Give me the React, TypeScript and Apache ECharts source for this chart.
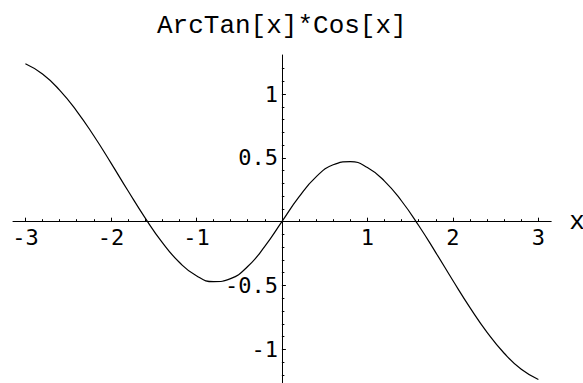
import React, { useEffect, useRef } from "react";
import * as echarts from "echarts";

const TITLE = "ArcTan[x]*Cos[x]";
const X_NAME = "x";

// curve samples
const xValues = [
  -3.0, -2.8, -2.6, -2.4, -2.2, -2.0, -1.8, -1.6, -1.4, -1.2, -1.0, -0.8, -0.6, -0.4, -0.2, 0,
  0.2, 0.4, 0.6, 0.8, 1.0, 1.2, 1.4, 1.6, 1.8, 2.0, 2.2, 2.4, 2.6, 2.8, 3.0,
];
const yValues = [
  1.237, 1.157, 1.031, 0.867, 0.673, 0.461, 0.242, 0.03, -0.162, -0.318, -0.424, -0.47, -0.446,
  -0.351, -0.194, 0, 0.194, 0.351, 0.446, 0.47, 0.424, 0.318, 0.162, -0.03, -0.242, -0.461,
  -0.673, -0.867, -1.031, -1.157, -1.237,
];

const xLabels = [-3, -2, -1, 1, 2, 3];
const xMajorTicks = [-3, -2, -1, 0, 1, 2, 3];
const xMinorTicks = [
  -2.8, -2.6, -2.4, -2.2, -1.8, -1.6, -1.4, -1.2, -0.8, -0.6, -0.4, -0.2, 0.2, 0.4, 0.6, 0.8,
  1.2, 1.4, 1.6, 1.8, 2.2, 2.4, 2.6, 2.8,
];
const yLabels = [-1, -0.5, 0.5, 1];
const yMajorTicks = [-1, -0.5, 0.5, 1];
const yMinorTicks = [
  -1.2, -1.1, -0.9, -0.8, -0.7, -0.6, -0.4, -0.3, -0.2, -0.1, 0.1, 0.2, 0.3, 0.4, 0.6, 0.7,
  0.8, 0.9, 1.1, 1.2,
];

const X_MIN = -3.145;
const X_MAX = 3.15;
const Y_MIN = -1.264;
const Y_MAX = 1.306;

const LABEL_FONT = "DejaVu Sans Mono";
const MONO = "Liberation Mono";

export default function App() {
  const ref = useRef<HTMLDivElement>(null);

  useEffect(() => {
    if (!ref.current) return;
    const chart = echarts.init(ref.current, undefined, { renderer: "svg" });
    const data = xValues.map((x, i) => [x, yValues[i]]);
    const axisLineStyle = { color: "#000", width: 1 };
    chart.setOption({
      animation: false,
      backgroundColor: "#fff",
      title: {
        text: TITLE,
        left: 152,
        top: 8,
        textStyle: { fontFamily: MONO, fontSize: 26, fontWeight: "normal", color: "#000" },
      },
      grid: { left: 13, right: 31.8, top: 55, bottom: 0, containLabel: false, outerBoundsMode: "none" },
      xAxis: [
        {
          type: "value",
          min: X_MIN,
          max: X_MAX,
          position: "bottom",
          name: X_NAME,
          nameLocation: "end",
          nameGap: 18,
          nameTextStyle: { fontFamily: MONO, fontSize: 26, color: "#000", verticalAlign: "middle" },
          axisLine: { show: true, onZero: false, lineStyle: axisLineStyle },
          axisTick: { show: true, inside: true, length: 4, customValues: xMajorTicks, lineStyle: { color: "#000" } },
          axisLabel: {
            show: true,
            customValues: xLabels,
            formatter: (v: number) => String(v),
            margin: 5,
            fontFamily: LABEL_FONT,
            fontSize: 22,
            color: "#000",
          },
          splitLine: { show: false },
        },
        {
          type: "value",
          min: X_MIN,
          max: X_MAX,
          position: "bottom",
          axisLine: { show: false, onZero: false },
          axisTick: { show: true, inside: true, length: 2.5, customValues: xMinorTicks, lineStyle: { color: "#000" } },
          axisLabel: { show: false },
          splitLine: { show: false },
        },
      ],
      yAxis: [
        {
          type: "value",
          min: Y_MIN,
          max: Y_MAX,
          position: "left",
          axisLine: { show: true, onZero: false, lineStyle: axisLineStyle },
          axisTick: { show: true, inside: true, length: 4, customValues: yMajorTicks, lineStyle: { color: "#000" } },
          axisLabel: {
            show: true,
            customValues: yLabels,
            formatter: (v: number) => String(v),
            margin: 4,
            fontFamily: LABEL_FONT,
            fontSize: 22,
            color: "#000",
          },
          splitLine: { show: false },
        },
        {
          type: "value",
          min: Y_MIN,
          max: Y_MAX,
          position: "left",
          axisLine: { show: false, onZero: false },
          axisTick: { show: true, inside: true, length: 2.5, customValues: yMinorTicks, lineStyle: { color: "#000" } },
          axisLabel: { show: false },
          splitLine: { show: false },
        },
      ],
      series: [
        {
          type: "line",
          xAxisIndex: 0,
          yAxisIndex: 0,
          data,
          smooth: true,
          symbol: "none",
          showSymbol: false,
          silent: true,
          lineStyle: { color: "#000", width: 1.2 },
        },
      ],
    });

    // move both axes so they cross at the origin, using the chart's own scales
    const x0 = chart.convertToPixel({ xAxisIndex: 0 }, 0) as number;
    const xLeft = chart.convertToPixel({ xAxisIndex: 0 }, X_MIN) as number;
    const y0 = chart.convertToPixel({ yAxisIndex: 0 }, 0) as number;
    const yBottom = chart.convertToPixel({ yAxisIndex: 0 }, Y_MIN) as number;
    const xOff = -(yBottom - y0);
    const yOff = -(x0 - xLeft);
    chart.setOption({
      xAxis: [{ offset: xOff }, { offset: xOff }],
      yAxis: [{ offset: yOff }, { offset: yOff }],
    });

    return () => chart.dispose();
  }, []);

  return (
    <div
      ref={ref}
      style={{ position: "fixed", left: 0, top: 0, width: 583, height: 383, background: "#fff" }}
    />
  );
}
